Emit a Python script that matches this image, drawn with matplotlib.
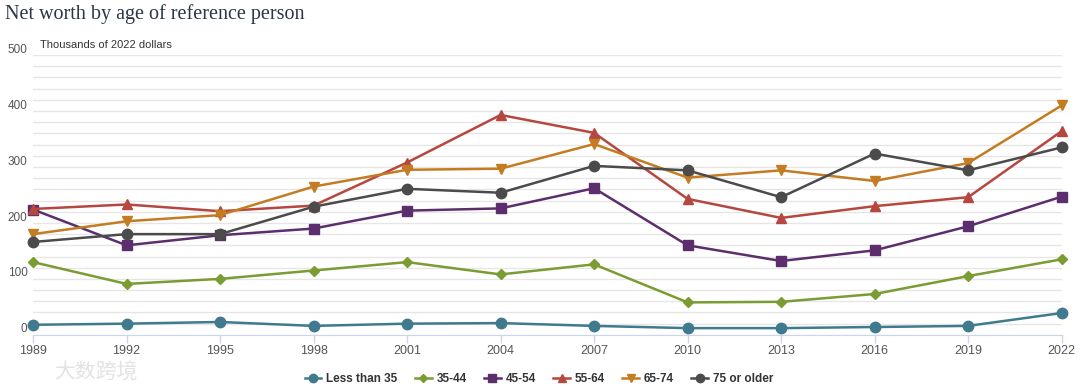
import matplotlib.pyplot as plt
import matplotlib.transforms as mtransforms
from matplotlib.ticker import MultipleLocator

plt.rcParams['font.family'] = ['Liberation Sans', 'DejaVu Sans']

# Median net worth, thousands of 2022 dollars
years = [1989, 1992, 1995, 1998, 2001, 2004, 2007, 2010, 2013, 2016, 2019, 2022]
under_35 = [18, 20, 23, 16, 20, 21, 16, 12, 12, 14, 16, 39]
age_35_44 = [130, 91, 100, 115, 130, 108, 126, 58, 59, 73, 105, 135]
age_45_54 = [224, 160, 178, 190, 222, 226, 262, 160, 132, 151, 194, 247]
age_55_64 = [225, 233, 221, 231, 308, 393, 361, 243, 209, 230, 246, 364]
age_65_74 = [180, 203, 214, 265, 295, 297, 341, 281, 294, 275, 307, 410]
age_75_up = [166, 180, 180, 229, 261, 254, 302, 294, 246, 324, 294, 335]

series_names = ['Less than 35', '35-44', '45-54', '55-64', '65-74', '75 or older']
series_values = [under_35, age_35_44, age_45_54, age_55_64, age_65_74, age_75_up]
colors = ['#3f7a8e', '#7a9c32', '#5c2e6e', '#b5473f', '#c47c22', '#4b4b4b']
markers = ['o', 'D', 's', '^', 'v', 'o']
msizes = [7.5, 5.5, 7.5, 7.5, 7.5, 7.5]

fig = plt.figure(figsize=(10.8, 3.88), dpi=100)
ax = fig.add_axes([0.0306, 0.137, 0.9524, 0.721])

for name, vals, c, m, ms in zip(series_names, series_values, colors, markers, msizes):
    ax.plot(years, vals, color=c, marker=m, markersize=ms, linewidth=1.8,
            label=name, clip_on=False, zorder=3)

ax.set_xlim(1989, 2022)
ax.set_ylim(0, 500)
ax.set_xticks(years)
ax.set_xticklabels([str(y) for y in years])
ax.yaxis.set_major_locator(MultipleLocator(100))
ax.yaxis.set_minor_locator(MultipleLocator(20))
ax.grid(axis='y', which='both', color='#e6e6e6', linewidth=1)
ax.set_axisbelow(True)

for s in ['top', 'right', 'left']:
    ax.spines[s].set_visible(False)
ax.spines['bottom'].set_color('#ccd6eb')
ax.tick_params(axis='x', colors='#ccd6eb', length=6, width=1, labelcolor='#555555',
               labelsize=9, pad=1)
ax.tick_params(axis='y', which='both', length=0, labelcolor='#555555', labelsize=8.5, pad=4)

# y labels sit a little above their grid lines
offset = mtransforms.ScaledTranslation(0, 5 / 72, fig.dpi_scale_trans)
for lab in ax.get_yticklabels():
    lab.set_transform(lab.get_transform() + offset)

fig.text(0.005, 0.965, 'Net worth by age of reference person', family='Liberation Serif',
         fontsize=14.5, color='#2b3648', va='center', ha='left')
fig.text(0.037, 0.885, 'Thousands of 2022 dollars', fontsize=8, color='#333333',
         va='center', ha='left')

leg = fig.legend(loc='center', bbox_to_anchor=(0.499, 0.023), ncol=6, frameon=False,
                 prop={'weight': 'bold', 'size': 8.5}, handlelength=1.4,
                 columnspacing=1.5, handletextpad=0.4, markerscale=0.8)
for t in leg.get_texts():
    t.set_color('#333333')

fig.text(0.05, 0.04, '大数跨境', family=['Noto Sans CJK SC', 'DejaVu Sans'],
         fontsize=15, color='#dcdcdc', va='center', ha='left', alpha=0.8)

fig.savefig('out.png', dpi=100)
